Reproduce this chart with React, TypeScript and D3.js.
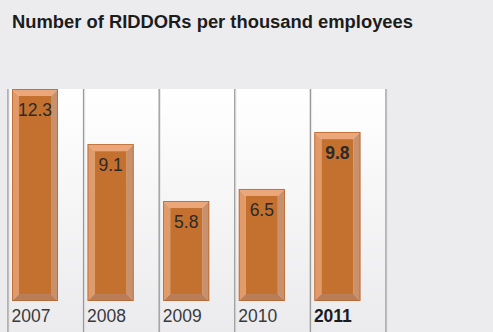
import React from "react";
import * as d3 from "d3";

const years = ["2007", "2008", "2009", "2010", "2011"];
const values = [12.3, 9.1, 5.8, 6.5, 9.8];
const highlightYear = "2011";
const title = "Number of RIDDORs per thousand employees";

const W = 493;
const H = 332;
const panelTop = 89;
const baseY = 301;
const bevel = 7;
const barOffset = 4;
const barW = 46;

export default function App() {
  const x = d3.scaleBand<string>().domain(years).range([8, 386]).paddingInner(0).paddingOuter(0);
  const y = d3.scaleLinear().domain([0, 12.3]).range([baseY, panelTop]);
  const font = "'Liberation Sans', Arial, Helvetica, sans-serif";
  const bw = x.bandwidth();

  return (
    <svg width={W} height={H} style={{ position: "absolute", left: 0, top: 0 }} fontFamily={font}>
      <defs>
        <linearGradient id="panelGrad" x1="0" y1="0" x2="0" y2="1">
          <stop offset="0" stopColor="#ffffff" />
          <stop offset="1" stopColor="#ebebed" />
        </linearGradient>
      </defs>
      <rect width={W} height={H} fill="#ececee" />
      <text x={12} y={27.6} fontSize={18} fontWeight="bold" fill="#1c1c1c" textLength={401} lengthAdjust="spacingAndGlyphs">
        {title}
      </text>
      {years.map((yr) => (
        <rect key={"p" + yr} x={x(yr)} y={panelTop} width={bw} height={H - panelTop} fill="url(#panelGrad)" />
      ))}
      {[...years.map((yr) => x(yr)!), 386].map((lx, i) => (
        <g key={"l" + i}>
          <line x1={lx} x2={lx} y1={panelTop} y2={H} stroke="#9a9a9a" strokeWidth={1.4} />
          <line x1={lx + 1.2} x2={lx + 1.2} y1={panelTop} y2={H} stroke="#e2e2e4" strokeWidth={0.8} />
        </g>
      ))}
      {years.map((yr, i) => {
        const x0 = x(yr)! + barOffset;
        const x1 = x0 + barW;
        const y0 = y(values[i]);
        const y1 = y(0);
        const bold = yr === highlightYear;
        const pts = (a: number[][]) => a.map((p) => p.join(",")).join(" ");
        return (
          <g key={"b" + yr}>
            <polygon points={pts([[x0, y0], [x1, y0], [x1 - bevel, y0 + bevel], [x0 + bevel, y0 + bevel]])} fill="#eba67a" />
            <polygon points={pts([[x0, y0], [x0 + bevel, y0 + bevel], [x0 + bevel, y1 - bevel], [x0, y1]])} fill="#e29a68" />
            <polygon points={pts([[x1, y0], [x1, y1], [x1 - bevel, y1 - bevel], [x1 - bevel, y0 + bevel]])} fill="#c8906b" />
            <polygon points={pts([[x0, y1], [x0 + bevel, y1 - bevel], [x1 - bevel, y1 - bevel], [x1, y1]])} fill="#b97d57" />
            <rect x={x0 + bevel} y={y0 + bevel} width={barW - 2 * bevel} height={y1 - y0 - 2 * bevel} fill="#c4702f" />
            <rect x={x0 + 0.4} y={y0 + 0.4} width={barW - 0.8} height={y1 - y0 - 0.8} fill="none" stroke="#b9662f" strokeWidth={0.8} />
            <text x={(x0 + x1) / 2} y={y0 + 27} textAnchor="middle" fontSize={17.5} fontWeight={bold ? "bold" : "normal"} fill="#2a2a2a">
              {values[i].toFixed(1)}
            </text>
            <text x={x0 - 0.5} y={322} fontSize={17.5} fontWeight={bold ? "bold" : "normal"} fill={bold ? "#1c1c1c" : "#3a3a3a"}>
              {yr}
            </text>
          </g>
        );
      })}
    </svg>
  );
}
